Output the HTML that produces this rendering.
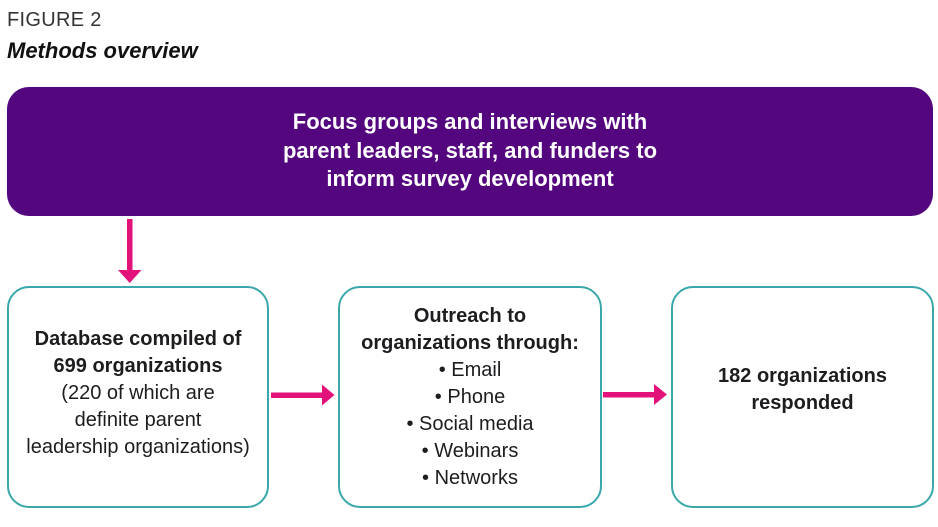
<!DOCTYPE html>
<html>
<head>
<meta charset="utf-8">
<style>
  html,body{margin:0;padding:0;background:#fff;}
  body{width:938px;height:527px;position:relative;overflow:hidden;font-family:"Liberation Sans",Arial,sans-serif;}
  .abs{position:absolute;}
  .t{color:#1e1c1f;font-size:20px;line-height:27px;text-align:center;white-space:nowrap;}
  .b{font-weight:bold;}
</style>
</head>
<body>
<svg class="abs" style="left:0;top:0" width="938" height="527" viewBox="0 0 938 527">
  <rect x="7" y="87" width="926" height="129" rx="22" ry="22" fill="#54067f"/>
  <rect x="8" y="287" width="260" height="220" rx="21" ry="21" fill="#fff" stroke="#3aa7aa" stroke-width="2"/>
  <rect x="339" y="287" width="262" height="220" rx="21" ry="21" fill="#fff" stroke="#3aa7aa" stroke-width="2"/>
  <rect x="672" y="287" width="261" height="220" rx="21" ry="21" fill="#fff" stroke="#3aa7aa" stroke-width="2"/>
  <!-- down arrow -->
  <rect x="127" y="219" width="5.5" height="53" fill="#e2127a"/>
  <polygon points="118,270 141.5,270 129.7,283" fill="#e2127a"/>
  <!-- right arrow 1 -->
  <rect x="271" y="392.5" width="52" height="5.5" fill="#e2127a"/>
  <polygon points="322,384.5 322,405.5 334.5,395" fill="#e2127a"/>
  <!-- right arrow 2 -->
  <rect x="603" y="392" width="52" height="5.5" fill="#e2127a"/>
  <polygon points="654,384 654,405 667,394.5" fill="#e2127a"/>
</svg>

<div class="abs" style="left:7px;top:9px;font-size:20px;line-height:22px;color:#333;letter-spacing:0.3px;white-space:nowrap;">FIGURE 2</div>
<div class="abs" style="left:7px;top:39px;font-size:22px;line-height:24px;color:#111;font-weight:bold;font-style:italic;white-space:nowrap;">Methods overview</div>

<div class="abs b" style="left:7px;width:926px;top:108px;font-size:22px;line-height:28.5px;color:#fff;text-align:center;white-space:nowrap;">Focus groups and interviews with<br>parent leaders, staff, and funders to<br>inform survey development</div>

<div class="abs t" style="left:8px;width:260px;top:326px;"><span class="b">Database compiled of<br>699 organizations</span><br>(220 of which are<br>definite parent<br>leadership organizations)</div>

<div class="abs t" style="left:339px;width:262px;top:302.5px;"><span class="b">Outreach to<br>organizations through:</span><br>• Email<br>• Phone<br>• Social media<br>• Webinars<br>• Networks</div>

<div class="abs t b" style="left:672px;width:261px;top:363px;">182 organizations<br>responded</div>
</body>
</html>
